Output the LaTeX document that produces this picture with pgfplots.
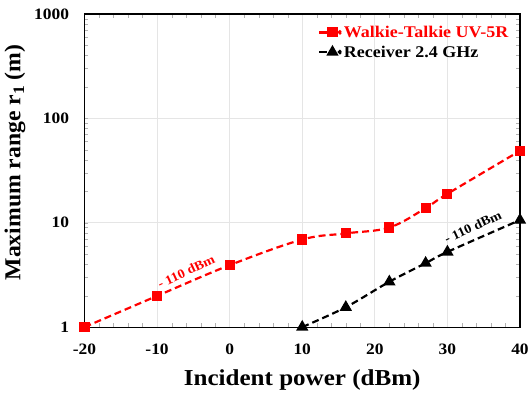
\documentclass[border=0pt]{standalone}
\usepackage{fontspec}
\setmainfont{Liberation Serif}[FakeStretch=1.1]
\newfontfamily\ylfont{Liberation Serif}[FakeStretch=1.04]
\usepackage{pgfplots}
\pgfplotsset{compat=1.18}
\begin{document}
\begin{tikzpicture}
\begin{axis}[
  name=ax,
  scale only axis,
  width=438bp, height=315bp,
  xmin=-20, xmax=40,
  ymode=log, ymin=1, ymax=1000,
  xtick={-20,-10,0,10,20,30,40},
  minor x tick num=4,
  ytick={1,10,100,1000},
  yticklabels={1,10,100,1000},
  /pgf/number format/assume math mode=true,
  ticklabel style={font=\fontsize{16}{19}\selectfont\bfseries},
  xticklabel style={yshift=-13bp},
  yticklabel style={xshift=-12bp},
  xlabel={Incident power (dBm)},
  ylabel={\ylfont Maximum range r$_{\mathbf{1}}$ (m)},
  label style={font=\fontsize{23}{27}\selectfont\bfseries},
  xlabel style={yshift=-9bp},
  ylabel style={yshift=2bp, xshift=8bp},
  grid=major,
  major grid style={gray!20, line width=0.8pt},
  tick align=inside,
  major tick length=0pt,
  minor tick length=4bp,
  minor tick style={gray!60},
  axis line style={black, line width=1.2pt},
  legend style={draw=none, fill=none, at={(0.985,0.975)}, anchor=north east,
    font=\fontsize{16.5}{20}\selectfont\bfseries, row sep=3bp},
  legend cell align=left,
  legend image code/.code={
    \draw[#1, solid, mark=none, line width=2.4pt] (0bp,0bp) -- (8bp,0bp);
    \fill[#1] (21bp,0bp) circle (1bp);
    \path[#1, solid] plot coordinates {(13.5bp,0bp)};
  },
]
\addplot[red, line width=2.2bp, dash pattern=on 7bp off 4bp, smooth, tension=0.6, mark=square*, mark size=4bp, mark options={solid}]
 coordinates {(-20,1) (-10,1.99) (0,3.92) (10,6.9) (16,7.9) (22,9.0) (27,13.8) (30,18.9) (40,48.8)};
\addlegendentry{\textcolor{red}{Walkie-Talkie UV-5R}}
\addplot[black, line width=2.2bp, dash pattern=on 7bp off 4bp, smooth, mark=triangle*, mark size=5bp, mark options={solid}]
 coordinates {(10,1) (16,1.55) (22,2.72) (27,4.1) (30,5.25) (40,10.6)};
\addlegendentry{Receiver 2.4 GHz}
\node[red, rotate=25, font=\fontsize{13}{15}\selectfont\bfseries] at (axis cs:-6.0,3.4) {- 110 dBm};
\node[black, rotate=25, font=\fontsize{13}{15}\selectfont\bfseries] at (axis cs:33.5,9.1) {- 110 dBm};
\end{axis}
\path (ax.south west) ++(-85bp,-68bp) coordinate (bl);
\path (ax.north east) ++(9bp,14bp) coordinate (tr);
\useasboundingbox (bl) rectangle (tr);
\end{tikzpicture}
\end{document}
